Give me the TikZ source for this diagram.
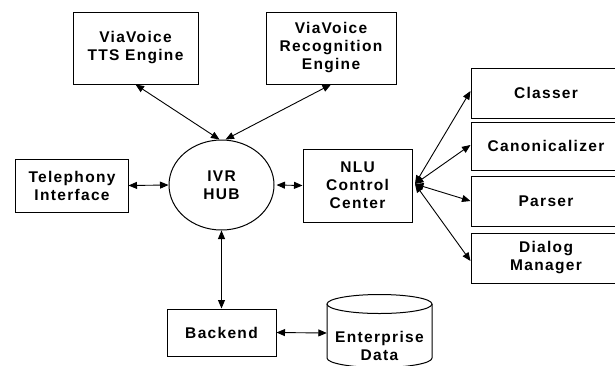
\documentclass[tikz,border=0pt]{standalone}
\usepackage{fontspec}
\setmainfont{Liberation Sans}[LetterSpace=8.5]
\usetikzlibrary{shapes.geometric,arrows.meta}
\tikzset{
  box/.style={draw, line width=1bp, rectangle, inner sep=0pt, align=center,
    font=\bfseries\fontsize{15.5bp}{18bp}\selectfont},
  hubshape/.style={draw, line width=1bp, ellipse, inner sep=0pt, align=center,
    minimum width=105bp, minimum height=90bp,
    font=\bfseries\fontsize{15.5bp}{18bp}\selectfont},
  lbl/.style={inner sep=0pt, align=center,
    font=\bfseries\fontsize{15.5bp}{18bp}\selectfont},
  link/.style={line width=0.9bp, {Triangle[length=8.5bp,width=7bp]}-{Triangle[length=8.5bp,width=7bp]}},
}
\begin{document}
\begin{tikzpicture}[x=1bp,y=-1bp]
\useasboundingbox (0,0) rectangle (615,365);
% boxes
\node[box, minimum width=125bp, minimum height=72bp] (tts) at (135.5,48) {ViaVoice\\TTS Engine};
\node[box, minimum width=130bp, minimum height=72bp] (rec) at (331,48) {ViaVoice\\Recognition\\Engine};
\node[box, minimum width=112bp, minimum height=53bp] (tel) at (72,185.5) {Telephony\\Interface};
\node[hubshape] (ivr) at (221.5,185) {IVR\\HUB};
\node[box, minimum width=109bp, minimum height=73bp] (nlu) at (357.5,185.5) {NLU\\Control\\Center};
\node[box, minimum width=150bp, minimum height=50bp] (cls) at (546,93) {Classer};
\node[box, minimum width=150bp, minimum height=48bp] (can) at (546,146) {Canonicalizer};
\node[box, minimum width=150bp, minimum height=50bp] (par) at (546,201) {Parser};
\node[box, minimum width=150bp, minimum height=50bp] (dlg) at (546,258) {Dialog\\Manager};
\node[box, minimum width=109bp, minimum height=47bp] (back) at (221.5,332.5) {Backend};
% cylinder
\draw[line width=1bp] (379.5,304) ellipse (52.5 and 9.5);
\draw[line width=1bp] (327,304) -- (327,358) arc (180:0:52.5 and 9.5) -- (432,304);
\node[lbl, minimum width=105bp, minimum height=20bp] (ent) at (379.5,333) {};
\node[lbl] (entt) at (379.5,346) {Enterprise\\Data};
% connectors
\coordinate (fan) at (415,184);
\draw[link] (tts.south) -- ([xshift=-2bp]ivr.north);
\draw[link] (rec.south) -- ([xshift=4bp]ivr.north);
\draw[link] (tel.east) -- (ivr.west);
\draw[link] ([xshift=2bp]ivr.east) -- (nlu.west);
\draw[link] (ivr.south) -- (back.north);
\draw[link] (back.east) -- (ent.west);
\draw[link] (fan) -- ([yshift=2bp]cls.west);
\draw[link] (fan) -- ([yshift=1bp]can.west);
\draw[link] (fan) -- (par.west);
\draw[link] (fan) -- ([yshift=-3bp]dlg.west);
\end{tikzpicture}
\end{document}
